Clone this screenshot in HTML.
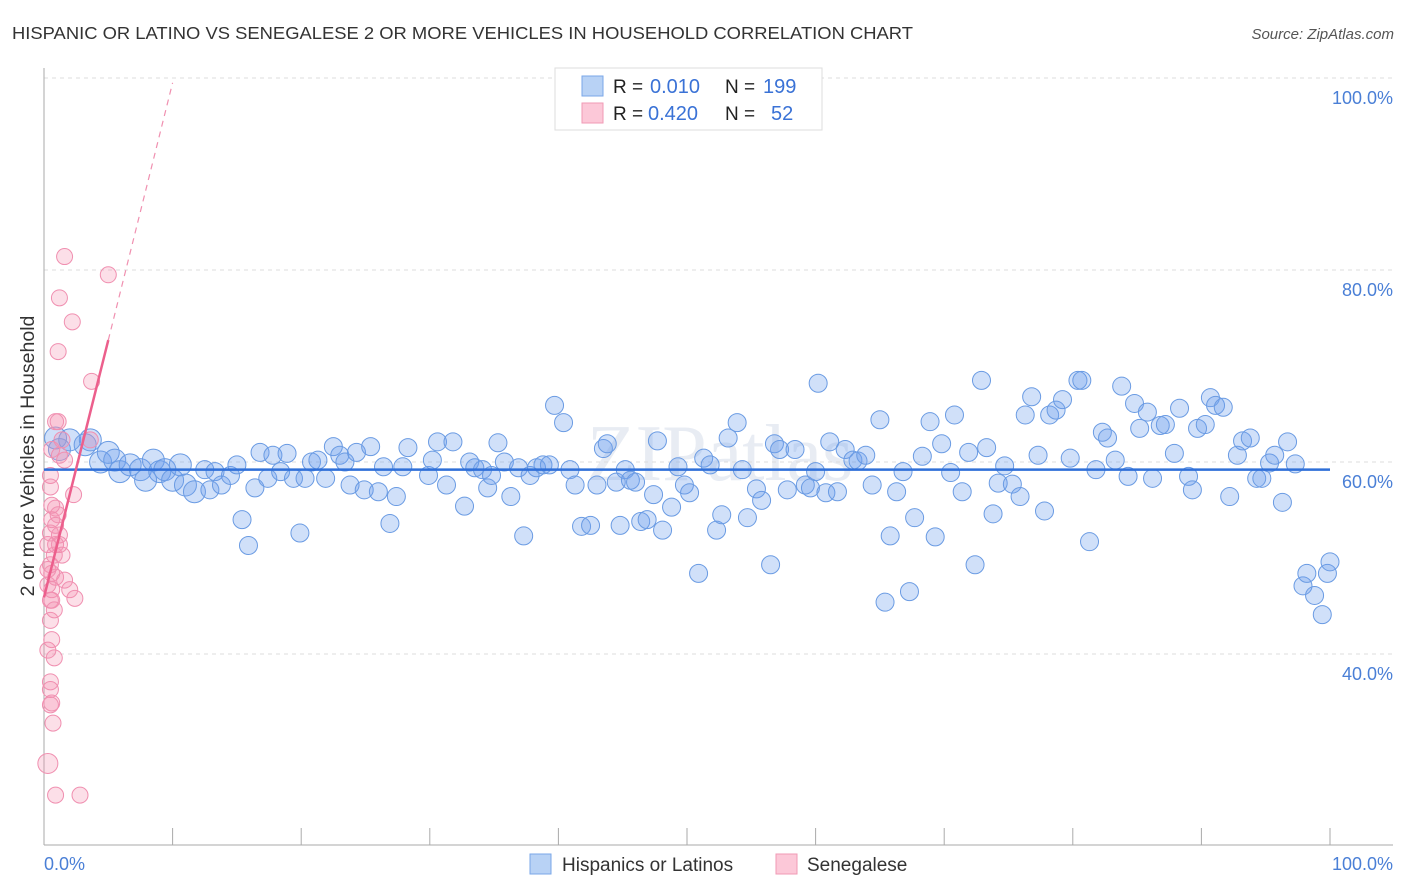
<!DOCTYPE html>
<html><head><meta charset="utf-8"><style>
body{margin:0;background:#fff;font-family:"Liberation Sans",sans-serif}
svg{display:block}
</style></head><body>
<svg id="chart" width="1406" height="892" viewBox="0 0 1406 892" xmlns="http://www.w3.org/2000/svg" font-family="Liberation Sans, sans-serif">
<text x="12" y="39" font-size="17.5" fill="#333" textLength="901" lengthAdjust="spacingAndGlyphs">HISPANIC OR LATINO VS SENEGALESE 2 OR MORE VEHICLES IN HOUSEHOLD CORRELATION CHART</text>
<text x="1394" y="39" font-size="15" fill="#555" text-anchor="end" font-style="italic">Source: ZipAtlas.com</text>
<text x="720" y="480" font-size="80" fill="#e8ecf3" text-anchor="middle" font-family="Liberation Serif, serif">ZIPatlas</text>
<g id="grid"></g>
<g id="axes"></g>
<g id="blue"></g>
<g id="pink"></g>
<g id="trend"></g>
<text transform="translate(34,456) rotate(-90)" font-size="19.5" fill="#333" text-anchor="middle">2 or more Vehicles in Household</text>
<text x="44" y="870" font-size="18" fill="#4a7fd6">0.0%</text>
<text x="1393" y="870" font-size="18" fill="#4a7fd6" text-anchor="end">100.0%</text>
<g>
<rect x="555" y="68" width="267" height="62" fill="#fff" stroke="#ddd"/>
<rect x="582" y="76" width="21" height="20" fill="#b8d2f5" stroke="#7aa7e8"/>
<rect x="582" y="103" width="21" height="20" fill="#fcc8d8" stroke="#f09ab5"/>
<text x="613" y="93" font-size="19" fill="#222">R = </text><text x="650" y="93" font-size="20" fill="#3a72d6">0.010</text>
<text x="725" y="93" font-size="19" fill="#222">N = </text><text x="763" y="93" font-size="20" fill="#3a72d6">199</text>
<text x="613" y="120" font-size="19" fill="#222">R = </text><text x="648" y="120" font-size="20" fill="#3a72d6">0.420</text>
<text x="725" y="120" font-size="19" fill="#222">N = </text><text x="771" y="120" font-size="20" fill="#3a72d6">52</text>
</g>
<g>
<rect x="530" y="854" width="21" height="20" fill="#b8d2f5" stroke="#7aa7e8"/>
<text x="562" y="871" font-size="19" fill="#333">Hispanics or Latinos</text>
<rect x="776" y="854" width="21" height="20" fill="#fcc8d8" stroke="#f09ab5"/>
<text x="807" y="871" font-size="19" fill="#333">Senegalese</text>
</g>
</svg>
<script>
const yTicks=[40,60,80,100];
const xTickVals=[10,20,30,40,50,60,70,80,90,100];
const blueX=[0.9,1.2,2.0,3.2,3.6,4.4,5.0,5.5,5.9,6.7,7.5,7.9,8.5,9.0,9.4,10.0,10.6,11.0,11.7,12.5,12.9,13.3,13.8,14.5,15.0,15.4,15.9,16.4,16.8,17.4,17.8,18.4,18.9,19.4,19.9,20.3,20.8,21.3,21.9,22.5,23.0,23.4,23.8,24.3,24.9,25.4,26.0,26.4,26.9,27.4,27.9,28.3,29.9,30.2,30.6,31.3,31.8,32.7,33.1,33.5,34.1,34.5,34.8,35.3,35.8,36.3,36.9,37.3,37.8,38.3,38.8,39.3,39.7,40.4,40.9,41.3,41.8,42.5,43.0,43.5,43.8,44.5,44.8,45.2,45.6,46.0,46.4,46.9,47.4,47.7,48.1,48.8,49.3,49.8,50.2,50.9,51.3,51.8,52.3,52.7,53.2,53.9,54.3,54.7,55.4,55.8,56.5,56.8,57.2,57.8,58.4,59.2,59.6,60.0,60.2,60.8,61.1,61.7,62.3,62.9,63.3,63.9,64.4,65.0,65.4,65.8,66.3,66.8,67.3,67.7,68.3,68.9,69.3,69.8,70.5,70.8,71.4,71.9,72.4,72.9,73.3,73.8,74.2,74.7,75.3,75.9,76.3,76.8,77.3,77.8,78.2,78.7,79.2,79.8,80.4,80.7,81.3,81.8,82.3,82.7,83.3,83.8,84.3,84.8,85.2,85.8,86.2,86.8,87.2,87.9,88.3,89.0,89.3,89.7,90.3,90.7,91.1,91.7,92.2,92.8,93.2,93.8,94.3,94.7,95.3,95.7,96.3,96.7,97.3,97.9,98.2,98.8,99.4,99.8,100.0];
const blueY=[62.5,61.3,62.3,61.8,62.3,60.0,61.0,60.2,59.0,59.7,59.2,58.1,60.2,59.0,59.2,58.1,59.7,57.6,56.9,59.2,57.1,59.0,57.6,58.6,59.7,54.0,51.3,57.3,61.0,58.3,60.7,59.0,60.9,58.3,52.6,58.3,60.0,60.2,58.3,61.6,60.7,60.0,57.6,61.0,57.1,61.6,56.9,59.5,53.6,56.4,59.5,61.5,58.6,60.2,62.1,57.6,62.1,55.4,60.0,59.4,59.2,57.3,58.6,62.0,60.0,56.4,59.4,52.3,58.6,59.4,59.7,59.7,65.9,64.1,59.2,57.6,53.3,53.4,57.6,61.4,61.9,57.9,53.4,59.2,58.1,57.9,53.8,54.0,56.6,62.2,52.9,55.3,59.5,57.6,56.8,48.4,60.4,59.7,52.9,54.5,62.5,64.1,59.2,54.2,57.2,56.0,49.3,61.9,61.3,57.1,61.3,57.6,57.3,59.0,68.2,56.8,62.1,56.9,61.3,60.2,60.1,60.7,57.6,64.4,45.4,52.3,56.9,59.0,46.5,54.2,60.6,64.2,52.2,61.9,58.9,64.9,56.9,61.0,49.3,68.5,61.5,54.6,57.8,59.6,57.7,56.4,64.9,66.8,60.7,54.9,64.9,65.4,66.5,60.4,68.5,68.5,51.7,59.2,63.1,62.5,60.2,67.9,58.5,66.1,63.5,65.2,58.3,63.8,63.9,60.9,65.6,58.5,57.1,63.5,63.9,66.7,65.9,65.7,56.4,60.7,62.2,62.5,58.3,58.3,59.9,60.7,55.8,62.1,59.8,47.1,48.4,46.1,44.1,48.4,49.6];
const pinkX=[0.3,0.9,2.8,0.5,0.6,0.8,0.5,0.6,0.5,0.7,0.5,0.6,0.3,0.9,0.6,0.5,0.8,0.9,1.2,0.5,0.6,0.9,1.1,1.2,1.4,1.6,2.0,2.4,2.3,0.6,1.2,1.6,0.9,1.1,3.6,3.7,1.1,2.2,1.2,5.0,1.6,0.5,0.5,0.6,0.3,0.3,0.6,0.8,1.4,0.3,0.5,0.9];
const pinkY=[28.6,25.3,25.3,43.5,41.5,39.6,37.1,34.9,34.7,32.8,45.6,46.7,47.2,48.0,48.4,49.3,50.3,51.4,52.4,52.6,54.0,55.2,54.5,51.4,50.3,47.7,46.7,45.8,56.6,61.3,60.7,60.2,64.2,64.2,62.3,68.4,71.5,74.6,77.1,79.5,81.4,57.4,58.6,55.5,51.4,48.8,45.6,44.6,62.3,40.4,36.3,53.4];
const blueTrend=[0.0,59.2,100,59.2];
const pinkTrend=[0,45.9,5,72.7,10,99.5];

const NS='http://www.w3.org/2000/svg';
const X=v=>44+v*12.86;
const Y=v=>1038-v*9.6;
function mk(tag,attrs,parent){const e=document.createElementNS(NS,tag);for(const k in attrs)e.setAttribute(k,attrs[k]);parent.appendChild(e);return e;}
const grid=document.getElementById('grid'),axes=document.getElementById('axes');
yTicks.forEach(t=>{
  const l=mk('line',{x1:44,x2:1393,y1:Y(t),y2:Y(t),stroke:'#dcdcdc','stroke-dasharray':'4,4'},grid);
  
  
  const tx=mk('text',{x:1393,y:Y(t)+26,'font-size':18,fill:'#4a7fd6','text-anchor':'end'},grid);
  tx.textContent=t.toFixed(1)+'%';
  
  
});
const ax=mk('line',{x1:44,x2:1393,y1:845,y2:845,stroke:'#aaa'},axes);


const ay=mk('line',{x1:44,x2:44,y1:68,y2:845,stroke:'#aaa'},axes);


xTickVals.forEach(t=>{
  const l=mk('line',{x1:X(t),x2:X(t),y1:828,y2:845,stroke:'#aaa'},axes);
  
  
});
const bg=document.getElementById('blue');
blueX.forEach((x,i)=>{
  const r=x<12?11:9;
  const c=mk('circle',{cx:X(x),cy:Y(blueY[i]),r:r,fill:'rgba(110,160,235,0.32)',stroke:'#6a9be3','stroke-width':1},bg);
  
  
});
const pg=document.getElementById('pink');
pinkX.forEach((x,i)=>{
  const r=i===0?10:8;
  const c=mk('circle',{cx:X(x),cy:Y(pinkY[i]),r:r,fill:'rgba(245,150,180,0.3)',stroke:'#f08fb0','stroke-width':1},pg);
  
  
});
const tg=document.getElementById('trend');
const bt=mk('line',{x1:X(blueTrend[0]),y1:Y(blueTrend[1]),x2:X(blueTrend[2]),y2:Y(blueTrend[3]),stroke:'#2f6fd8','stroke-width':2.5},tg);


const pt=mk('line',{x1:X(pinkTrend[0]),y1:Y(pinkTrend[1]),x2:X(pinkTrend[2]),y2:Y(pinkTrend[3]),stroke:'#ec5f8c','stroke-width':2.5},tg);


const pd=mk('line',{x1:X(pinkTrend[2]),y1:Y(pinkTrend[3]),x2:X(pinkTrend[4]),y2:Y(pinkTrend[5]),stroke:'#f090b0','stroke-width':1.2,'stroke-dasharray':'6,5'},tg);


</script>
</body></html>
